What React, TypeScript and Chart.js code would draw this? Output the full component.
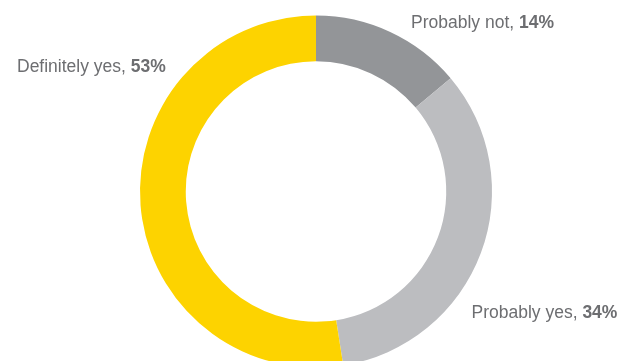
import React, { useEffect, useRef } from "react";
import { Chart, registerables } from "chart.js";

Chart.register(...registerables);

const categories = ["Probably not", "Probably yes", "Definitely yes"];
const values = [14, 34, 53];
const colors = ["#939598", "#bcbdc0", "#fdd300"];

const labelPlugin = {
  id: "sliceLabels",
  afterDraw(chart: any) {
    const meta = chart.getDatasetMeta(0);
    const arc = meta.data[0];
    if (!arc) return;
    const cx = arc.x;
    const cy = arc.y;
    const ctx = chart.ctx;
    // label anchors relative to doughnut center
    const anchors = [
      { dx: 95, dy: -163.5 },
      { dx: 155.5, dy: 126 },
      { dx: -299, dy: -119.5 },
    ];
    ctx.save();
    ctx.fillStyle = "#6d6e71";
    ctx.textBaseline = "alphabetic";
    ctx.textAlign = "left";
    categories.forEach((c, i) => {
      const a = anchors[i];
      let x = cx + a.dx;
      const y = cy + a.dy;
      const t1 = c + ", ";
      ctx.font = "17.5px 'Liberation Sans', Arial, sans-serif";
      ctx.fillText(t1, x, y);
      x += ctx.measureText(t1).width;
      ctx.font = "bold 17.5px 'Liberation Sans', Arial, sans-serif";
      ctx.fillText(values[i] + "%", x, y);
    });
    ctx.restore();
  },
};

export default function App() {
  const ref = useRef<HTMLCanvasElement>(null);
  useEffect(() => {
    if (!ref.current) return;
    const chart = new Chart(ref.current, {
      type: "doughnut",
      data: {
        labels: categories,
        datasets: [
          {
            data: values,
            backgroundColor: colors,
            borderWidth: 0,
          },
        ],
      },
      options: {
        responsive: false,
        animation: false,
        devicePixelRatio: 1,
        cutout: "74%",
        layout: { padding: { top: 15.5, bottom: 32.5, left: 140, right: 136 } },
        plugins: {
          legend: { display: false },
          tooltip: { enabled: false },
        },
      },
      plugins: [labelPlugin],
    });
    return () => chart.destroy();
  }, []);
  return (
    <div
      style={{
        position: "fixed",
        left: 0,
        top: 0,
        width: 628,
        height: 361,
        overflow: "hidden",
        background: "#fff",
      }}
    >
      <canvas ref={ref} width={628} height={400} style={{ width: 628, height: 400, display: "block" }} />
    </div>
  );
}
